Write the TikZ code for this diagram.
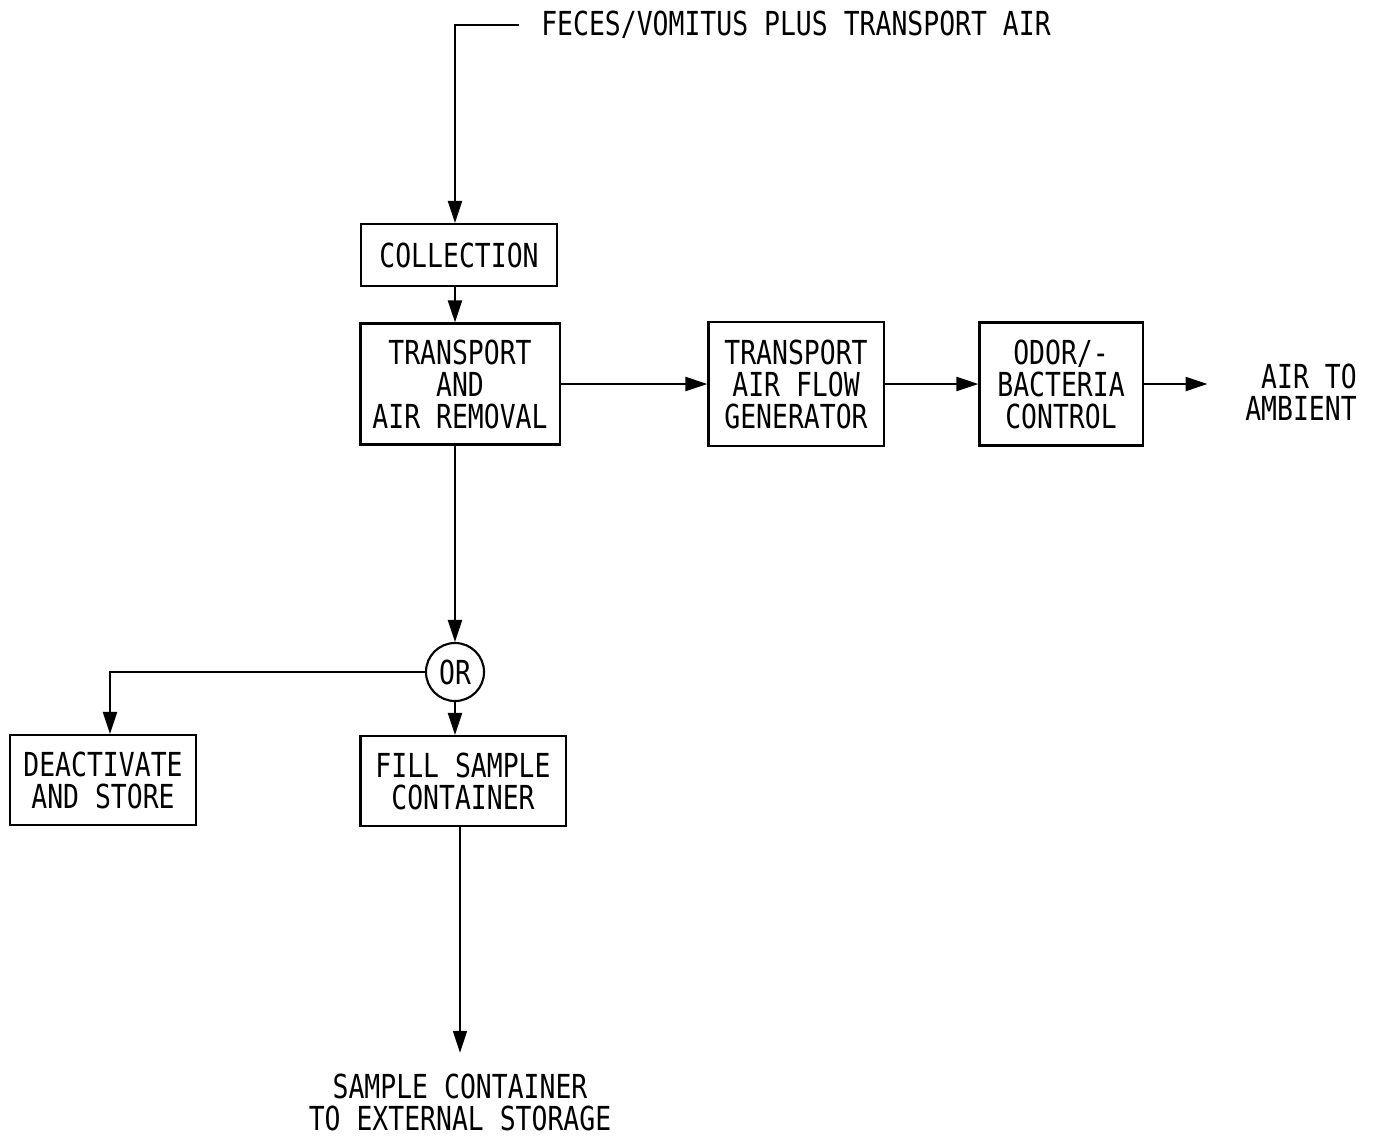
\documentclass[tikz,border=0pt]{standalone}
\usepackage{fontspec}
\newfontfamily\diafont[FakeStretch=0.8]{DejaVu Sans Mono}
\usetikzlibrary{arrows.meta, positioning}

\begin{document}
\begin{tikzpicture}[x=0.01cm, y=-0.01cm,
    every node/.style={font={\diafont\fontsize{9.4pt}{9.1pt}\selectfont}, align=center, inner sep=0pt},
    caja/.style={draw, line width=0.6pt},
    flecha/.style={line width=0.6pt, -{Triangle[length=0.22cm, width=0.14cm]}},
    linea/.style={line width=0.6pt}]
    \useasboundingbox (0,0) rectangle (1374,1136);

    % Entrada
    \node (feed) at (796,25) {FECES/VOMITUS PLUS TRANSPORT AIR};

    % Cajas
    \node[caja, minimum width=1.96cm, minimum height=0.62cm] (col) at (459,255) {COLLECTION};
    \node[caja, minimum width=1.99cm, minimum height=1.21cm] (trans) at (460,384) {TRANSPORT\\AND\\AIR REMOVAL};
    \node[caja, minimum width=1.75cm, minimum height=1.24cm] (gen) at (796,384) {TRANSPORT\\AIR FLOW\\GENERATOR};
    \node[caja, minimum width=1.63cm, minimum height=1.23cm] (odor) at (1061,384) {ODOR/-\\BACTERIA\\CONTROL};
    \node[caja, circle, minimum size=0.58cm] (or) at (455,672) {OR};
    \node[caja, minimum width=1.86cm, minimum height=0.90cm] (deact) at (103,780) {DEACTIVATE\\AND STORE};
    \node[caja, minimum width=2.05cm, minimum height=0.90cm] (fill) at (463,781) {FILL SAMPLE\\CONTAINER};

    % Salidas
    \node[align=right] (air) at (1301,392) {AIR TO\\AMBIENT};
    \node (samp) at (460,1102) {SAMPLE CONTAINER\\TO EXTERNAL STORAGE};

    % Conexiones
    \draw[flecha] ([xshift=-0.22cm]feed.west) -| (col.north -| or.center);
    \draw[flecha] (col.south -| or.center) -- (trans.north -| or.center);
    \draw[flecha] (trans.east) -- (gen.west);
    \draw[flecha] (gen.east) -- (odor.west);
    \draw[flecha, shorten >=0.37cm] (odor.east) -- (odor.east -| air.west);
    \draw[flecha] (trans.south -| or.center) -- (or.north);
    \draw[flecha] (or.west) -| ([xshift=0.07cm]deact.north);
    \draw[flecha] (or.south) -- (fill.north -| or.center);
    \draw[flecha, shorten >=0.2cm] (fill.south -| samp.north) -- (samp.north);
\end{tikzpicture}
\end{document}
